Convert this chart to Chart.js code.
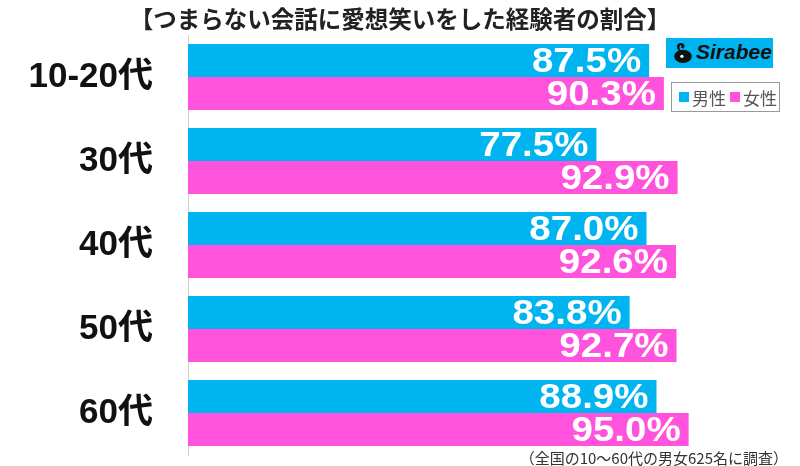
<!DOCTYPE html>
<html>
<head>
<meta charset="utf-8">
<script src="https://cdn.jsdelivr.net/npm/chart.js@4/dist/chart.umd.min.js"></script>
<style>
  body { margin: 0; background: #fff; }
  #wrap { position: relative; width: 800px; height: 466px; overflow: hidden; }
  #chart { position: absolute; left: 0; top: 0; }
  #title {
    position: absolute; left: 0; top: 1px; width: 800px; text-align: center;
    font: bold 23.5px "Noto Sans CJK JP", sans-serif; color: #222;
  }
  #note {
    position: absolute; right: 12px; top: 447px;
    font: 15px "Noto Sans CJK JP", sans-serif; color: #333;
  }
  #logo {
    position: absolute; left: 666px; top: 38px; width: 107px; height: 30px;
    background: #00b4f0;
  }
  #logo svg { position: absolute; left: 6px; top: 4px; }
  #logo span {
    position: absolute; left: 30px; top: 2px;
    font: italic bold 21px "Liberation Sans", Arial, sans-serif; color: #111;
  }
  #legend {
    position: absolute; left: 671px; top: 82px; width: 109px; height: 30px;
    box-sizing: border-box; border: 1px solid #999;
    font: 17px "Noto Sans CJK JP", sans-serif; color: #555;
    display: flex; align-items: center; padding-left: 7px; white-space: nowrap;
  }
  #legend i { display: inline-block; width: 10px; height: 10px; margin-right: 3px; flex: none; }
  #legend b { font-weight: normal; margin-right: 4px; flex: none; }
</style>
</head>
<body>
<div id="wrap">
  <canvas id="chart" width="800" height="466"></canvas>
  <div id="title">【つまらない会話に愛想笑いをした経験者の割合】</div>
  <div id="logo">
    <svg width="22" height="22" viewBox="0 0 20 20">
      <path d="M6 8 C3 4 5 0 9 1 C12 2 12 5 10 6 L8 5 C9 4 9 3 8 3 C7 3 6 5 8 8 Z" fill="#111"/>
      <ellipse cx="10" cy="13" rx="8" ry="6" fill="#111"/>
      <circle cx="9" cy="13" r="1.5" fill="#fff"/>
    </svg>
    <span>Sirabee</span>
  </div>
  <div id="legend"></div>
  <div id="note">（全国の10～60代の男女625名に調査）</div>
</div>
<script>
const categories = ['10-20代', '30代', '40代', '50代', '60代'];
const seriesNames = ['男性', '女性'];
const maleValues = [87.5, 77.5, 87.0, 83.8, 88.9];
const femaleValues = [90.3, 92.9, 92.6, 92.7, 95.0];
const colors = ['#00b4f0', '#ff52dd'];

// legend box at top right
document.getElementById('legend').innerHTML = seriesNames
  .map((n, i) => '<i style="background:' + colors[i] + '"></i><b>' + n + '</b>')
  .join('');

// white value labels inside the bar ends
const valueLabels = {
  id: 'valueLabels',
  afterDatasetsDraw(chart) {
    const ctx = chart.ctx;
    ctx.font = 'bold 35px "Liberation Sans", Arial, sans-serif';
    ctx.fillStyle = '#fff';
    ctx.textAlign = 'right';
    ctx.textBaseline = 'middle';
    chart.data.datasets.forEach((ds, i) => {
      chart.getDatasetMeta(i).data.forEach((bar, j) => {
        ctx.save();
        ctx.translate(bar.x - 8, bar.y + 2);
        ctx.scale(1.1, 1);
        ctx.fillText(ds.data[j].toFixed(1) + '%', 0, 0);
        ctx.restore();
      });
    });
  }
};

new Chart(document.getElementById('chart'), {
  type: 'bar',
  data: {
    labels: categories,
    datasets: [
      { label: seriesNames[0], data: maleValues, backgroundColor: colors[0] },
      { label: seriesNames[1], data: femaleValues, backgroundColor: colors[1] }
    ]
  },
  options: {
    indexAxis: 'y',
    responsive: false,
    animation: false,
    devicePixelRatio: 1,
    categoryPercentage: 0.786,
    barPercentage: 1,
    layout: { padding: { left: 0, top: 35, right: 85, bottom: 11 } },
    plugins: { legend: { display: false }, tooltip: { enabled: false } },
    scales: {
      x: { min: 0, max: 100, display: false },
      y: {
        grid: { display: false, drawTicks: false },
        border: { display: true, color: '#d0d0d0', width: 1 },
        ticks: {
          padding: 35,
          color: '#111',
          font: { family: '"Liberation Sans", "Noto Sans CJK JP", sans-serif', size: 35, weight: 'bold' }
        },
        afterFit(scale) {
          scale.width = 188;
          // tick padding should not shrink the plot vertically
          scale.paddingTop = 0;
          scale.paddingBottom = 0;
        }
      }
    }
  },
  plugins: [valueLabels]
});
</script>
</body>
</html>
